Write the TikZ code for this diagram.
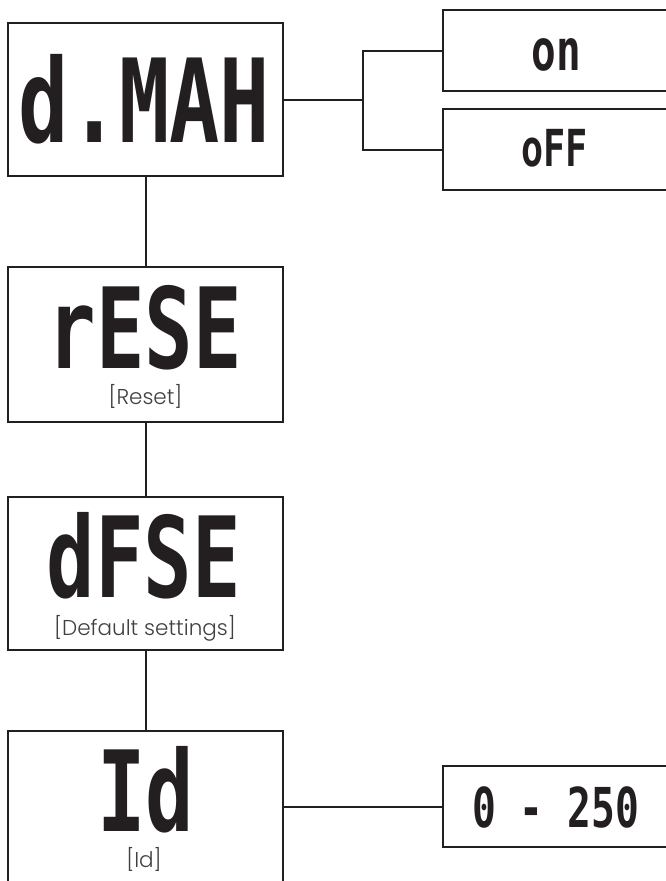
\documentclass[tikz,border=0pt]{standalone}
\usepackage{fontspec}
\usepackage{xcolor}
\usepackage{tikz}
\usetikzlibrary{positioning}
\newfontfamily\lcdfont[FakeStretch=0.72]{DejaVu Sans Mono}
\newfontfamily\capfont{Poppins Light}
\newcommand{\lcdsize}[1]{\fontsize{#1}{#1}\selectfont}
\definecolor{ink}{HTML}{231F20}
\tikzstyle{panel} = [rectangle, minimum width=275pt, draw=ink, line width=2.6pt, inner sep=0pt]
\tikzstyle{valuebox} = [rectangle, minimum width=234pt, minimum height=81pt, draw=ink, line width=2.6pt, inner sep=0pt]
\tikzstyle{lcd} = [inner sep=0pt, text=ink, font=\lcdfont\bfseries]
\tikzstyle{caption} = [inner sep=0pt, text=black!75, font=\capfont\fontsize{21.5}{24}\selectfont]
\tikzstyle{line} = [draw=ink, line width=2pt]

\begin{document}
\begin{tikzpicture}[x=1pt, y=-1pt]
      \useasboundingbox[fill=white] (0,0) rectangle (666,881);

      % Nodes
      \node (dmax) [panel, minimum height=153pt] at (145.5,99.5) {};
      \node (rese) [panel, minimum height=155pt] at (145.5,344.5) {};
      \node (dfse) [panel, minimum height=153pt] at (145.5,573.5) {};
      \node (id) [panel, minimum height=151pt] at (145.5,806.5) {};
      \node (on) [valuebox] at (560,50.5) {};
      \node (off) [valuebox] at (560,149.5) {};
      \node (range) [valuebox] at (560,806.5) {};

      % Display texts
      \node (dmaxtxt) [lcd] at (144.5,99.5) {\lcdsize{116}d.MAH};
      \node (resetxt) [lcd] at (145,327.5) {\lcdsize{112}rESE};
      \node (dfsetxt) [lcd] at (144,556) {\lcdsize{112}dFSE};
      \node (idtxt) [lcd] at (146,789.5) {\lcdsize{112}Id};
      \node (ontxt) [lcd] at (556,54.5) {\lcdsize{57}on};
      \node (offtxt) [lcd] at (554.5,148.5) {\lcdsize{51}oFF};
      \node (rangetxt) [lcd] at (555.5,807) {\lcdsize{55}0 - 250};

      % Captions
      \node (resecap) [caption] at (145.5,396) {[Reset]};
      \node (dfsecap) [caption] at (145,628) {[Default settings]};
      \node (idcap) [caption] at (144,859) {[Id]};

      % Lines
      \draw [line] (dmax.east) -- ++(79,0) coordinate (fork);
      \draw [line] (on.west) -| (fork) |- (off.west);
      \draw [line] (dmax) -- (rese);
      \draw [line] (rese) -- (dfse);
      \draw [line] (dfse) -- (id);
      \draw [line] (id) -- (range);

\end{tikzpicture}
\end{document}
